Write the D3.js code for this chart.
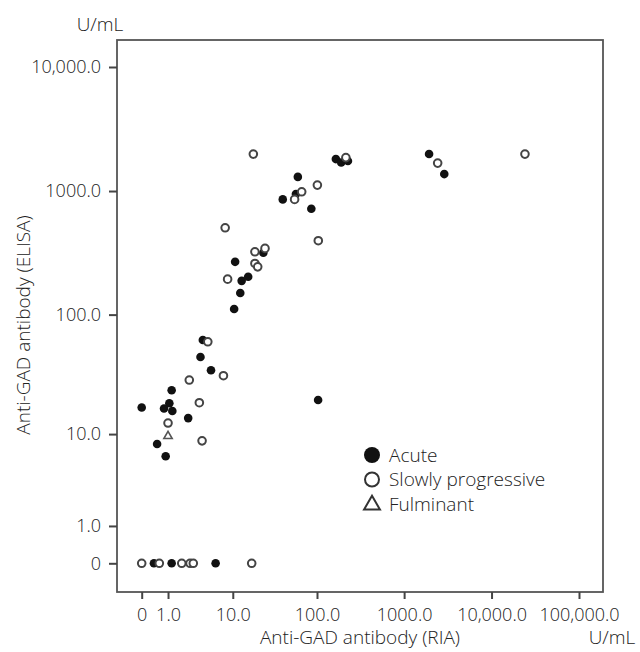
<!DOCTYPE html>
<html>
<head>
<meta charset="utf-8">
<script src="https://cdn.jsdelivr.net/npm/d3@7"></script>
<style>
  body { margin: 0; background: #fff; }
  text { font-family: "Open Sans", "Noto Sans", sans-serif; font-weight: 300; fill: #222; }
</style>
</head>
<body>
<script>
const WIDTH = 640;
const HEIGHT = 652;

// tick values and labels
const xTicks = [0, 1, 10, 100, 1000, 10000, 100000];
const xTickLabels = ['0', '1.0', '10.0', '100.0', '1000.0', '10,000.0', '100,000.0'];
const yTicks = [0, 1, 10, 100, 1000, 10000];
const yTickLabels = ['0', '1.0', '10.0', '100.0', '1000.0', '10,000.0'];

// Acute
const acuteRIA = [165, 190, 227, 1930, 2880, 60, 57, 40, 86, 23.6, 10.7, 15.5, 12.9, 12.4, 10.4,
    4.0, 3.7, 5.2, 1.2, 0, 1.07, 0.8, 1.24, 2.4, 0.5, 0.88, 103, 0.38, 1.2, 6.0];
const acuteELISA = [1810, 1700, 1745, 1990, 1370, 1300, 945, 856, 719, 317, 268, 203, 188, 150, 111,
    62, 45, 35, 23.8, 17, 18.5, 16.7, 15.9, 13.8, 8.15, 6.3, 19.7, 0, 0, 0];

// Slowly progressive
const slowRIA = [215, 2420, 24100, 17.9, 101, 66.5, 55, 8, 103.5, 18.7, 24.7, 18.7, 20.2, 8.6,
    4.7, 7.6, 2.5, 3.56, 1.0, 3.9, 0, 0.59, 1.87, 2.57, 2.89, 17.1];
const slowELISA = [1860, 1680, 1985, 1985, 1116, 986, 856, 505, 397, 323, 344, 260, 244, 194,
    60, 31.5, 29, 18.7, 12.5, 8.7, 0, 0, 0, 0, 0, 0];

// Fulminant
const fulmRIA = [1.0];
const fulmELISA = [9.6];

const legendLabels = ['Acute', 'Slowly progressive', 'Fulminant'];

const svg = d3.select('body')
    .append('svg')
    .attr('width', WIDTH)
    .attr('height', HEIGHT);

// log(1 + v) scales
const x = d3.scaleSymlog().constant(1)
    .domain([0, 100000])
    .range([141.7, 579]);
const y = d3.scaleSymlog().constant(1)
    .domain([0, 10000])
    .range([563.3, 67]);

const frame = {left: 117, top: 40, right: 603, bottom: 592};

svg.append('rect')
    .attr('x', frame.left)
    .attr('y', frame.top)
    .attr('width', frame.right - frame.left)
    .attr('height', frame.bottom - frame.top)
    .attr('fill', 'none')
    .attr('stroke', '#555')
    .attr('stroke-width', 1.8);

const yAxis = svg.append('g')
    .attr('transform', `translate(${frame.left}, 0)`)
    .call(d3.axisLeft(y)
        .tickValues(yTicks)
        .tickSize(8)
        .tickPadding(8)
        .tickFormat((d, i) => yTickLabels[i]));
yAxis.select('.domain').remove();
yAxis.selectAll('line').attr('stroke', '#444').attr('stroke-width', 2);
yAxis.selectAll('text')
    .attr('font-size', 18)
    .attr('fill', '#222')
    .style('font-family', '"Open Sans", sans-serif')
    .style('font-weight', 300);

const xAxis = svg.append('g')
    .attr('transform', `translate(0, ${frame.bottom})`)
    .call(d3.axisBottom(x)
        .tickValues(xTicks)
        .tickSize(7)
        .tickPadding(9)
        .tickFormat((d, i) => xTickLabels[i]));
xAxis.select('.domain').remove();
xAxis.selectAll('line').attr('stroke', '#444').attr('stroke-width', 2);
xAxis.selectAll('text')
    .attr('font-size', 18)
    .attr('fill', '#222')
    .style('font-family', '"Open Sans", sans-serif')
    .style('font-weight', 300);

// axis titles and units
svg.append('text')
    .attr('transform', 'translate(30, 325) rotate(-90)')
    .attr('text-anchor', 'middle')
    .attr('font-size', 19)
    .text('Anti-GAD antibody (ELISA)');

svg.append('text')
    .attr('x', 360)
    .attr('y', 644)
    .attr('text-anchor', 'middle')
    .attr('font-size', 19)
    .text('Anti-GAD antibody (RIA)');

svg.append('text')
    .attr('x', 100)
    .attr('y', 31)
    .attr('text-anchor', 'middle')
    .attr('font-size', 19)
    .text('U/mL');

svg.append('text')
    .attr('x', 612)
    .attr('y', 644)
    .attr('text-anchor', 'middle')
    .attr('font-size', 19)
    .text('U/mL');

// points
const acute = acuteRIA.map((d, i) => ({x: d, y: acuteELISA[i]}));
const slow = slowRIA.map((d, i) => ({x: d, y: slowELISA[i]}));
const fulm = fulmRIA.map((d, i) => ({x: d, y: fulmELISA[i]}));

svg.append('g').selectAll('circle')
    .data(acute)
    .join('circle')
    .attr('cx', d => x(d.x))
    .attr('cy', d => y(d.y))
    .attr('r', 4.3)
    .attr('fill', '#111');

svg.append('g').selectAll('circle')
    .data(slow)
    .join('circle')
    .attr('cx', d => x(d.x))
    .attr('cy', d => y(d.y))
    .attr('r', 3.8)
    .attr('fill', '#fff')
    .attr('stroke', '#444')
    .attr('stroke-width', 2);

const tri = d3.symbol().type(d3.symbolTriangle).size(30);
svg.append('g').selectAll('path')
    .data(fulm)
    .join('path')
    .attr('transform', d => `translate(${x(d.x)}, ${y(d.y)})`)
    .attr('d', tri)
    .attr('fill', '#fff')
    .attr('stroke', '#555')
    .attr('stroke-width', 1.6);

// legend
const legend = svg.append('g')
    .attr('transform', 'translate(372, 455)');
legendLabels.forEach((label, i) => {
    const row = legend.append('g')
        .attr('transform', `translate(0, ${i * 24.5})`);
    if (i === 0) {
        row.append('circle').attr('r', 8).attr('fill', '#111');
    } else if (i === 1) {
        row.append('circle').attr('r', 7).attr('fill', '#fff')
            .attr('stroke', '#333').attr('stroke-width', 2);
    } else {
        row.append('path')
            .attr('d', d3.symbol().type(d3.symbolTriangle).size(110))
            .attr('transform', 'translate(0, 1)')
            .attr('fill', '#fff')
            .attr('stroke', '#333')
            .attr('stroke-width', 2);
    }
    row.append('text')
        .attr('x', 17)
        .attr('y', 6.5)
        .attr('font-size', 19)
        .text(label);
});
</script>
</body>
</html>
